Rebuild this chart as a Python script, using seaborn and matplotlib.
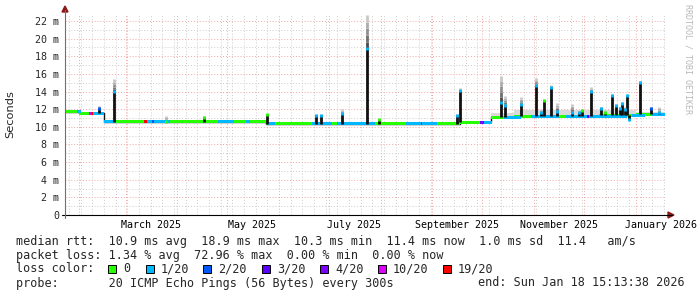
import numpy as np
import pandas as pd
import matplotlib
matplotlib.use("Agg")
import matplotlib.pyplot as plt
import matplotlib.dates as mdates
from matplotlib.lines import Line2D
from matplotlib.patches import Polygon, Rectangle
import seaborn as sns

# ---------------- data ----------------
start_time = "2025-01-23 15:13:38"
end_time = "2026-01-18 15:13:38"

base_dates = ["2025-01-23 15:13", "2025-02-01", "2025-02-16", "2025-05-24",
              "2025-09-17 12:00", "2025-10-06", "2025-10-20", "2025-12-10",
              "2026-01-01", "2026-01-18 15:13"]
base_values = [11.7, 11.55, 10.55, 10.35, 10.5, 11.1, 11.2, 11.3, 11.4, 11.4]
base_smoke = [11.85, 11.7, 10.75, 10.6, 10.65, 11.6, 11.9, 11.9, 11.7, 11.7]

spike_dates = ["2025-02-13", "2025-02-22", "2025-03-25", "2025-04-17", "2025-05-25",
               "2025-06-23", "2025-06-26", "2025-07-09", "2025-07-24", "2025-07-31",
               "2025-09-16", "2025-09-17 12:00", "2025-10-12 10:00", "2025-10-14 14:00",
               "2025-10-24 10:00", "2025-11-02", "2025-11-05", "2025-11-07", "2025-11-11",
               "2025-11-14 18:00", "2025-11-23 14:00", "2025-11-28", "2025-11-30",
               "2025-12-05", "2025-12-11", "2025-12-13 14:00", "2025-12-17 14:00",
               "2025-12-20", "2025-12-22 14:00", "2025-12-24", "2025-12-25 14:00",
               "2025-12-27", "2025-12-28 08:00", "2026-01-03 10:00", "2026-01-10 10:00",
               "2026-01-14 18:00"]
spike_median = [12.1, 14.0, 10.55, 11.1, 11.4, 11.3, 11.3, 11.5, 18.9, 10.8,
                11.3, 14.1, 12.8, 12.4, 12.55, 14.7, 11.6, 13.0, 14.5, 11.7,
                11.6, 11.65, 11.9, 14.0, 12.1, 11.6, 13.6, 12.4, 12.1, 12.6,
                12.0, 13.5, 10.8, 15.0, 12.1, 11.6]
spike_smoke = [12.4, 15.4, 11.2, 11.2, 11.5, 11.4, 11.4, 12.0, 22.7, 10.9,
               11.4, 14.4, 15.8, 13.5, 13.35, 15.5, 12.0, 13.1, 14.7, 12.7,
               12.6, 11.8, 12.0, 14.55, 12.3, 11.8, 13.7, 12.6, 12.3, 12.8,
               12.2, 13.7, 11.0, 15.2, 12.3, 12.2]
spike_loss = [2, 1, 0, 0, 0, 1, 1, 1, 1, 0,
              1, 1, 1, 1, 1, 1, 1, 0, 1, 1,
              1, 1, 0, 1, 1, 0, 1, 1, 1, 1,
              1, 1, 1, 1, 2, 1]

loss_labels = ["0", "1/20", "2/20", "3/20", "4/20", "10/20", "19/20"]
loss_colors = ["#26ff00", "#00b8ff", "#0059ff", "#5e00ff", "#7e00ff", "#dd00ff", "#ff0000"]

# runs of the median line with non-zero loss (rest is loss 0)
loss_start = ["2025-01-31", "2025-02-07", "2025-02-08 05:00", "2025-02-09 10:00", "2025-02-16",
              "2025-03-12", "2025-03-13 20:00", "2025-03-17", "2025-03-18", "2025-04-25 14:00",
              "2025-05-12", "2025-05-24 20:00", "2025-06-21", "2025-07-06", "2025-08-16",
              "2025-08-25", "2025-08-26", "2025-09-29 14:00", "2025-10-02", "2025-10-14",
              "2025-10-30", "2025-11-20", "2025-12-03", "2025-12-04", "2025-12-08",
              "2025-12-30", "2026-01-10 20:00"]
loss_end = ["2025-02-02", "2025-02-08 05:00", "2025-02-09 10:00", "2025-02-16", "2025-02-22 14:00",
            "2025-03-13 20:00", "2025-03-17", "2025-03-18", "2025-03-27 14:00", "2025-05-05",
            "2025-05-14 12:00", "2025-05-29 14:00", "2025-07-03", "2025-07-28 14:00", "2025-08-25",
            "2025-08-26", "2025-09-04", "2025-10-02", "2025-10-06 20:00", "2025-10-24",
            "2025-11-16", "2025-12-03", "2025-12-04", "2025-12-08", "2025-12-27",
            "2026-01-06 14:00", "2026-01-18 15:13"]
loss_code = [1, 5, 6, 1, 1, 6, 1, 2, 1, 1, 1, 1, 1, 1, 1, 2, 1, 4, 1, 1,
             1, 1, 3, 1, 1, 1, 1]

y_major = [0, 2, 4, 6, 8, 10, 12, 14, 16, 18, 20, 22]
y_labels = ["0", "2 m", "4 m", "6 m", "8 m", "10 m", "12 m", "14 m", "16 m", "18 m", "20 m", "22 m"]
month_labels = ["March 2025", "May 2025", "July 2025", "September 2025", "November 2025", "January 2026"]
month_label_dates = ["2025-03-16", "2025-05-16", "2025-07-16", "2025-09-16", "2025-11-16", "2026-01-16"]

legend_lines = [
    "median rtt:  10.9 ms avg  18.9 ms max  10.3 ms min  11.4 ms now  1.0 ms sd  11.4   am/s",
    "packet loss: 1.34 % avg  72.96 % max  0.00 % min  0.00 % now",
]
probe_text = "probe:       20 ICMP Echo Pings (56 Bytes) every 300s"
end_text = "end: Sun Jan 18 15:13:38 2026"

# ---------------- style ----------------
sns.set_style("white")
plt.rcParams["font.family"] = ["DejaVu Sans Mono", "DejaVu Sans"]

W, H = 697, 297
fig = plt.figure(figsize=(W / 100, H / 100), dpi=100)
ax = fig.add_axes([65 / W, (H - 215) / H, 600 / W, 200 / H])

def fx(px):
    return px / W

def fy(py):
    return 1 - py / H

def to_num(seq):
    return mdates.date2num(pd.to_datetime(seq, format="mixed"))

t0 = to_num([start_time])[0]
t1 = to_num([end_time])[0]

# grid
ax.set_yticks(y_major)
ax.set_yticks(np.arange(1, 23, 2), minor=True)
ax.xaxis.set_major_locator(mdates.MonthLocator())
ax.xaxis.set_minor_locator(mdates.WeekdayLocator(byweekday=mdates.SU))
ax.grid(which="minor", color="#cccccc", linestyle=(0, (1, 2)), linewidth=0.7)
ax.grid(which="major", color="#f2a6a6", linestyle=(0, (1, 2)), linewidth=0.7)
ax.set_axisbelow(True)
for s in ax.spines.values():
    s.set_visible(False)

# ---------------- data drawing ----------------
bd = to_num(base_dates)
bv = np.array(base_values)
bs = np.array(base_smoke)

def base_at(t):
    i = np.clip(np.searchsorted(bd, t, side="right") - 1, 0, len(bv) - 1)
    return bv[i]

SPW = 2.0  # spike line width (pt)

# smoke around baseline
ax.fill_between(bd, bv - 0.1, bs, step="post", color="#dadada", linewidth=0, zorder=2)

# spikes smoke (gradient)
sd = to_num(spike_dates)
greys = ["#4a4a4a", "#6e6e6e", "#909090", "#adadad", "#c8c8c8"]
for t, m, s in zip(sd, spike_median, spike_smoke):
    lo = max(m, base_at(t))
    if s > lo:
        edges = np.linspace(lo, s, len(greys) + 1)
        for k, g in enumerate(greys):
            ax.vlines(t, edges[k], edges[k + 1], color=g, linewidth=SPW, zorder=3)

# black median line (steps)
df = pd.DataFrame({"t": bd, "v": bv})
sns.lineplot(data=df, x="t", y="v", drawstyle="steps-post", color="#111111",
             linewidth=1.0, ax=ax, zorder=4)

# coloured median band (loss 0 everywhere, then runs with loss)
ax.fill_between(bd, bv - 0.17, bv + 0.17, step="post", color=loss_colors[0],
                linewidth=0, zorder=5)
ls_num = to_num(loss_start)
le_num = to_num(loss_end)
for ta, tb, c in zip(ls_num, le_num, loss_code):
    y = base_at(ta)
    ax.fill_between([ta, tb], y - 0.17, y + 0.17, color=loss_colors[c],
                    linewidth=0, zorder=5)

# spikes: black vertical + coloured cap
for t, m, c in zip(sd, spike_median, spike_loss):
    b = base_at(t)
    if abs(m - b) > 0.05:
        ax.vlines(t, min(m, b), max(m, b), color="#111111", linewidth=SPW, zorder=6)
    ax.vlines(t, m - 0.17, m + 0.17, color=loss_colors[c], linewidth=SPW, zorder=7)

ax.set_xlabel("")
ax.set_ylabel("")
ax.set_xlim(t0, t1)
ax.set_ylim(0, 200 / 8.818)
ax.set_yticks(y_major)
ax.set_yticklabels(y_labels, fontsize=7.2, family="DejaVu Sans Mono")
ax.set_xticklabels([])
ax.tick_params(axis="y", which="major", length=2.5, width=0.7, color="#a0a0a0", pad=1.5)
ax.tick_params(axis="y", which="minor", length=1.5, width=0.7, color="#c0c0c0")
ax.tick_params(axis="x", which="major", length=2.0, width=0.7, color="#f2a6a6")
ax.tick_params(axis="x", which="minor", length=1.5, width=0.7, color="#c0c0c0")

# month labels
for d, lab in zip(to_num(month_label_dates), month_labels):
    ax.text(d, -10 / 200, lab, transform=ax.get_xaxis_transform(),
            ha="center", va="center", fontsize=7.2, family="DejaVu Sans Mono", color="#000000")

# ---------------- axes lines with arrows ----------------
fig.add_artist(Line2D([fx(62), fx(672)], [fy(215), fy(215)], color="#000000", linewidth=0.8))
fig.add_artist(Line2D([fx(65), fx(65)], [fy(218), fy(10)], color="#707070", linewidth=0.8))
fig.add_artist(Polygon([[fx(668), fy(212)], [fx(668), fy(218)], [fx(674), fy(215)]],
                       closed=True, color="#8b1a1a", transform=fig.transFigure))
fig.add_artist(Polygon([[fx(62), fy(12)], [fx(68), fy(12)], [fx(65), fy(6)]],
                       closed=True, color="#8b1a1a", transform=fig.transFigure))

# labels
fig.text(fx(10), fy(114), "Seconds", rotation=90, ha="center", va="center",
         fontsize=8.2, family="DejaVu Sans")
fig.text(fx(688), fy(4), "RRDTOOL / TOBI OETIKER", rotation=270, ha="center", va="top",
         fontsize=6, family="DejaVu Sans Mono", color="#b8b8b8")

# legend
LF = 8.5
fig.text(fx(16), fy(241), legend_lines[0], ha="left", va="center", fontsize=LF, family="DejaVu Sans Mono")
fig.text(fx(16), fy(255), legend_lines[1], ha="left", va="center", fontsize=LF, family="DejaVu Sans Mono")
fig.text(fx(16), fy(269), "loss color:", ha="left", va="center", fontsize=LF, family="DejaVu Sans Mono")
box_x = [108, 146, 203, 262, 320, 378, 443]
for bx, lab, col in zip(box_x, loss_labels, loss_colors):
    fig.add_artist(Rectangle((fx(bx), fy(273)), 8 / W, 8 / H, facecolor=col,
                             edgecolor="#000000", linewidth=0.7, transform=fig.transFigure))
    fig.text(fx(bx + 15), fy(269), lab, ha="left", va="center", fontsize=LF, family="DejaVu Sans Mono")
fig.text(fx(16), fy(283), probe_text, ha="left", va="center", fontsize=LF, family="DejaVu Sans Mono")
fig.text(fx(478), fy(283), end_text, ha="left", va="center", fontsize=LF, family="DejaVu Sans Mono")

fig.savefig("out.png", dpi=100, facecolor="white")
